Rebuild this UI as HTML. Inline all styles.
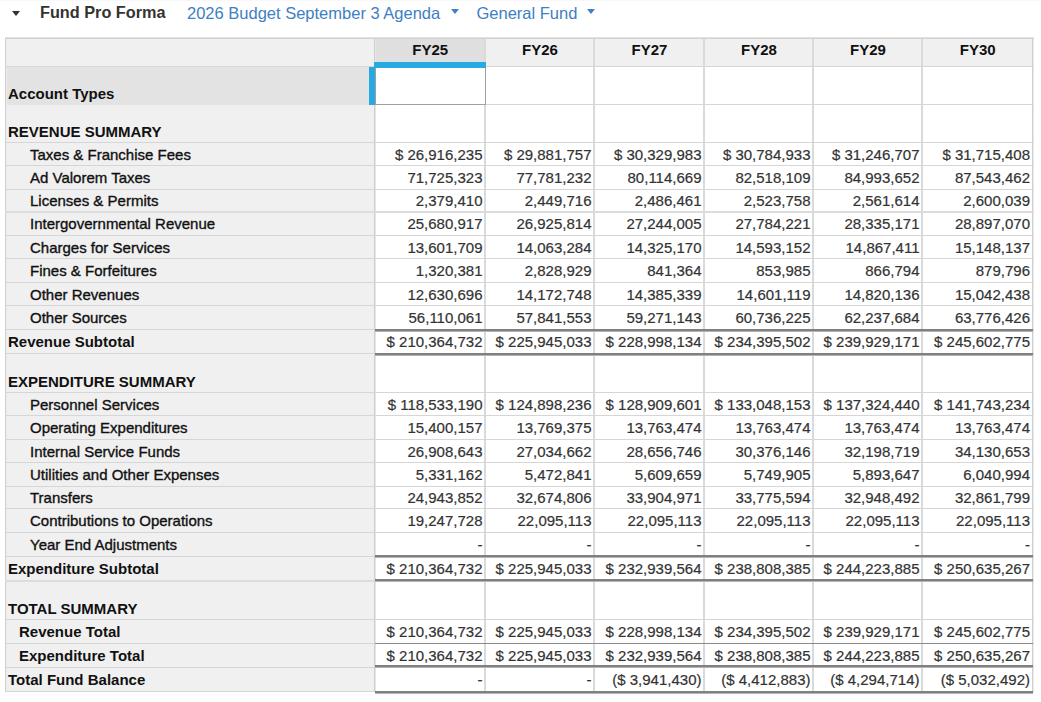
<!DOCTYPE html><html><head><meta charset="utf-8"><style>
*{margin:0;padding:0;box-sizing:border-box}
html,body{width:1041px;height:702px;overflow:hidden;background:#fff}
body{position:relative;font-family:"Liberation Sans",sans-serif;color:#222}
.a{position:absolute}
.t{position:absolute;white-space:nowrap;line-height:20px;font-size:15px}
.b{font-weight:bold}
.n{color:#333;text-align:right;-webkit-text-stroke:0.2px #333}
.lbl{color:#111}
.t.lbl:not(.b){-webkit-text-stroke:0.35px #111}
</style></head><body>
<div class="a" style="left:0;top:0;width:1041px;height:1px;background:#f8f8f8"></div>
<div class="a" style="left:11.5px;top:10.5px;width:0;height:0;border-left:4.5px solid transparent;border-right:4.5px solid transparent;border-top:5.5px solid #333"></div>
<div class="t b" style="left:40px;top:1.5px;font-size:16.25px;color:#333">Fund Pro Forma</div>
<div class="t" style="left:187px;top:2.5px;font-size:16.5px;color:#3d80c4">2026 Budget September 3 Agenda</div>
<div class="a" style="left:450.5px;top:9px;width:0;height:0;border-left:4.5px solid transparent;border-right:4.5px solid transparent;border-top:5.5px solid #3d80c4"></div>
<div class="t" style="left:476.5px;top:2.5px;font-size:16.5px;color:#3d80c4">General Fund</div>
<div class="a" style="left:587px;top:9px;width:0;height:0;border-left:4.5px solid transparent;border-right:4.5px solid transparent;border-top:5.5px solid #3d80c4"></div>
<div class="a" style="left:5px;top:38px;width:369px;height:653px;background:#f0f0f0"></div>
<div class="a" style="left:5px;top:38px;width:1027px;height:28px;background:#f0f0f0"></div>
<div class="a" style="left:374px;top:38px;width:110.5px;height:28px;background:#dfdfdf"></div>
<div class="a" style="left:5px;top:66px;width:369px;height:39px;background:#e3e3e3"></div>
<div class="a" style="left:5px;top:38px;width:1px;height:654px;background:#d0d0d0"></div>
<div class="a" style="left:6px;top:38px;width:1px;height:654px;background:#ececec"></div>
<div class="a" style="left:374px;top:38px;width:1px;height:654px;background:#cfcfcf"></div>
<div class="a" style="left:375px;top:38px;width:1px;height:654px;background:#e6e6e6"></div>
<div class="a" style="left:484px;top:38px;width:2px;height:654px;background:#dadada"></div>
<div class="a" style="left:593px;top:38px;width:2px;height:654px;background:#dadada"></div>
<div class="a" style="left:703px;top:38px;width:2px;height:654px;background:#dadada"></div>
<div class="a" style="left:812px;top:38px;width:2px;height:654px;background:#dadada"></div>
<div class="a" style="left:921px;top:38px;width:2px;height:654px;background:#dadada"></div>
<div class="a" style="left:1032px;top:38px;width:1px;height:654px;background:#cfcfcf"></div>
<div class="a" style="left:1033px;top:38px;width:1px;height:654px;background:#ececec"></div>
<div class="a" style="left:5px;top:37px;width:1029px;height:1px;background:#e2e2e2"></div>
<div class="a" style="left:5px;top:38px;width:1029px;height:1px;background:#d2d2d2"></div>
<div class="a" style="left:5px;top:66px;width:1029px;height:1px;background:#d6d6d6"></div>
<div class="a" style="left:374px;top:104px;width:660px;height:1px;background:#d6d6d6"></div>
<div class="a" style="left:5px;top:142px;width:1029px;height:1px;background:#d6d6d6"></div>
<div class="a" style="left:5px;top:165px;width:1029px;height:1px;background:#d6d6d6"></div>
<div class="a" style="left:5px;top:189px;width:1029px;height:1px;background:#d6d6d6"></div>
<div class="a" style="left:5px;top:211px;width:1029px;height:2px;background:#dcdcdc"></div>
<div class="a" style="left:5px;top:235px;width:1029px;height:1px;background:#d6d6d6"></div>
<div class="a" style="left:5px;top:258px;width:1029px;height:1px;background:#d6d6d6"></div>
<div class="a" style="left:5px;top:282px;width:1029px;height:1px;background:#d6d6d6"></div>
<div class="a" style="left:5px;top:305px;width:1029px;height:1px;background:#d6d6d6"></div>
<div class="a" style="left:5px;top:329px;width:1029px;height:1px;background:#d6d6d6"></div>
<div class="a" style="left:5px;top:353px;width:1029px;height:1px;background:#d6d6d6"></div>
<div class="a" style="left:5px;top:392px;width:1029px;height:1px;background:#d6d6d6"></div>
<div class="a" style="left:5px;top:415px;width:1029px;height:1px;background:#d6d6d6"></div>
<div class="a" style="left:5px;top:439px;width:1029px;height:1px;background:#d6d6d6"></div>
<div class="a" style="left:5px;top:462px;width:1029px;height:1px;background:#d6d6d6"></div>
<div class="a" style="left:5px;top:486px;width:1029px;height:1px;background:#d6d6d6"></div>
<div class="a" style="left:5px;top:508px;width:1029px;height:1px;background:#d6d6d6"></div>
<div class="a" style="left:5px;top:532px;width:1029px;height:1px;background:#d6d6d6"></div>
<div class="a" style="left:5px;top:556px;width:1029px;height:1px;background:#d6d6d6"></div>
<div class="a" style="left:5px;top:580px;width:1029px;height:2px;background:#dcdcdc"></div>
<div class="a" style="left:5px;top:619px;width:1029px;height:1px;background:#d6d6d6"></div>
<div class="a" style="left:5px;top:643px;width:1029px;height:1px;background:#d6d6d6"></div>
<div class="a" style="left:5px;top:667px;width:1029px;height:1px;background:#d6d6d6"></div>
<div class="a" style="left:5px;top:691px;width:1029px;height:1px;background:#d6d6d6"></div>
<div class="t b" style="left:374px;top:40px;width:112.5px;text-align:center;color:#111">FY25</div>
<div class="t b" style="left:484.5px;top:40px;width:111.0px;text-align:center;color:#111">FY26</div>
<div class="t b" style="left:593.5px;top:40px;width:112.0px;text-align:center;color:#111">FY27</div>
<div class="t b" style="left:703.5px;top:40px;width:111.0px;text-align:center;color:#111">FY28</div>
<div class="t b" style="left:812.5px;top:40px;width:111.0px;text-align:center;color:#111">FY29</div>
<div class="t b" style="left:921.5px;top:40px;width:112.5px;text-align:center;color:#111">FY30</div>
<div class="t b lbl" style="left:8px;top:84.0px">Account Types</div>
<div class="t b lbl" style="left:8px;top:121.5px">REVENUE SUMMARY</div>
<div class="t lbl" style="left:30px;top:144.5px">Taxes &amp; Franchise Fees</div>
<div class="t n" style="right:558.5px;top:144.5px">$ 26,916,235</div>
<div class="t n" style="right:449.5px;top:144.5px">$ 29,881,757</div>
<div class="t n" style="right:339.5px;top:144.5px">$ 30,329,983</div>
<div class="t n" style="right:230.5px;top:144.5px">$ 30,784,933</div>
<div class="t n" style="right:121.5px;top:144.5px">$ 31,246,707</div>
<div class="t n" style="right:11px;top:144.5px">$ 31,715,408</div>
<div class="t lbl" style="left:30px;top:168.0px">Ad Valorem Taxes</div>
<div class="t n" style="right:558.5px;top:168.0px">71,725,323</div>
<div class="t n" style="right:449.5px;top:168.0px">77,781,232</div>
<div class="t n" style="right:339.5px;top:168.0px">80,114,669</div>
<div class="t n" style="right:230.5px;top:168.0px">82,518,109</div>
<div class="t n" style="right:121.5px;top:168.0px">84,993,652</div>
<div class="t n" style="right:11px;top:168.0px">87,543,462</div>
<div class="t lbl" style="left:30px;top:191.25px">Licenses &amp; Permits</div>
<div class="t n" style="right:558.5px;top:191.25px">2,379,410</div>
<div class="t n" style="right:449.5px;top:191.25px">2,449,716</div>
<div class="t n" style="right:339.5px;top:191.25px">2,486,461</div>
<div class="t n" style="right:230.5px;top:191.25px">2,523,758</div>
<div class="t n" style="right:121.5px;top:191.25px">2,561,614</div>
<div class="t n" style="right:11px;top:191.25px">2,600,039</div>
<div class="t lbl" style="left:30px;top:214.25px">Intergovernmental Revenue</div>
<div class="t n" style="right:558.5px;top:214.25px">25,680,917</div>
<div class="t n" style="right:449.5px;top:214.25px">26,925,814</div>
<div class="t n" style="right:339.5px;top:214.25px">27,244,005</div>
<div class="t n" style="right:230.5px;top:214.25px">27,784,221</div>
<div class="t n" style="right:121.5px;top:214.25px">28,335,171</div>
<div class="t n" style="right:11px;top:214.25px">28,897,070</div>
<div class="t lbl" style="left:30px;top:237.5px">Charges for Services</div>
<div class="t n" style="right:558.5px;top:237.5px">13,601,709</div>
<div class="t n" style="right:449.5px;top:237.5px">14,063,284</div>
<div class="t n" style="right:339.5px;top:237.5px">14,325,170</div>
<div class="t n" style="right:230.5px;top:237.5px">14,593,152</div>
<div class="t n" style="right:121.5px;top:237.5px">14,867,411</div>
<div class="t n" style="right:11px;top:237.5px">15,148,137</div>
<div class="t lbl" style="left:30px;top:261.0px">Fines &amp; Forfeitures</div>
<div class="t n" style="right:558.5px;top:261.0px">1,320,381</div>
<div class="t n" style="right:449.5px;top:261.0px">2,828,929</div>
<div class="t n" style="right:339.5px;top:261.0px">841,364</div>
<div class="t n" style="right:230.5px;top:261.0px">853,985</div>
<div class="t n" style="right:121.5px;top:261.0px">866,794</div>
<div class="t n" style="right:11px;top:261.0px">879,796</div>
<div class="t lbl" style="left:30px;top:284.5px">Other Revenues</div>
<div class="t n" style="right:558.5px;top:284.5px">12,630,696</div>
<div class="t n" style="right:449.5px;top:284.5px">14,172,748</div>
<div class="t n" style="right:339.5px;top:284.5px">14,385,339</div>
<div class="t n" style="right:230.5px;top:284.5px">14,601,119</div>
<div class="t n" style="right:121.5px;top:284.5px">14,820,136</div>
<div class="t n" style="right:11px;top:284.5px">15,042,438</div>
<div class="t lbl" style="left:30px;top:308.0px">Other Sources</div>
<div class="t n" style="right:558.5px;top:308.0px">56,110,061</div>
<div class="t n" style="right:449.5px;top:308.0px">57,841,553</div>
<div class="t n" style="right:339.5px;top:308.0px">59,271,143</div>
<div class="t n" style="right:230.5px;top:308.0px">60,736,225</div>
<div class="t n" style="right:121.5px;top:308.0px">62,237,684</div>
<div class="t n" style="right:11px;top:308.0px">63,776,426</div>
<div class="t b lbl" style="left:8px;top:332.0px">Revenue Subtotal</div>
<div class="t n" style="right:558.5px;top:332.0px">$ 210,364,732</div>
<div class="t n" style="right:449.5px;top:332.0px">$ 225,945,033</div>
<div class="t n" style="right:339.5px;top:332.0px">$ 228,998,134</div>
<div class="t n" style="right:230.5px;top:332.0px">$ 234,395,502</div>
<div class="t n" style="right:121.5px;top:332.0px">$ 239,929,171</div>
<div class="t n" style="right:11px;top:332.0px">$ 245,602,775</div>
<div class="t b lbl" style="left:8px;top:371.5px">EXPENDITURE SUMMARY</div>
<div class="t lbl" style="left:30px;top:394.5px">Personnel Services</div>
<div class="t n" style="right:558.5px;top:394.5px">$ 118,533,190</div>
<div class="t n" style="right:449.5px;top:394.5px">$ 124,898,236</div>
<div class="t n" style="right:339.5px;top:394.5px">$ 128,909,601</div>
<div class="t n" style="right:230.5px;top:394.5px">$ 133,048,153</div>
<div class="t n" style="right:121.5px;top:394.5px">$ 137,324,440</div>
<div class="t n" style="right:11px;top:394.5px">$ 141,743,234</div>
<div class="t lbl" style="left:30px;top:418.0px">Operating Expenditures</div>
<div class="t n" style="right:558.5px;top:418.0px">15,400,157</div>
<div class="t n" style="right:449.5px;top:418.0px">13,769,375</div>
<div class="t n" style="right:339.5px;top:418.0px">13,763,474</div>
<div class="t n" style="right:230.5px;top:418.0px">13,763,474</div>
<div class="t n" style="right:121.5px;top:418.0px">13,763,474</div>
<div class="t n" style="right:11px;top:418.0px">13,763,474</div>
<div class="t lbl" style="left:30px;top:441.5px">Internal Service Funds</div>
<div class="t n" style="right:558.5px;top:441.5px">26,908,643</div>
<div class="t n" style="right:449.5px;top:441.5px">27,034,662</div>
<div class="t n" style="right:339.5px;top:441.5px">28,656,746</div>
<div class="t n" style="right:230.5px;top:441.5px">30,376,146</div>
<div class="t n" style="right:121.5px;top:441.5px">32,198,719</div>
<div class="t n" style="right:11px;top:441.5px">34,130,653</div>
<div class="t lbl" style="left:30px;top:465.0px">Utilities and Other Expenses</div>
<div class="t n" style="right:558.5px;top:465.0px">5,331,162</div>
<div class="t n" style="right:449.5px;top:465.0px">5,472,841</div>
<div class="t n" style="right:339.5px;top:465.0px">5,609,659</div>
<div class="t n" style="right:230.5px;top:465.0px">5,749,905</div>
<div class="t n" style="right:121.5px;top:465.0px">5,893,647</div>
<div class="t n" style="right:11px;top:465.0px">6,040,994</div>
<div class="t lbl" style="left:30px;top:488.0px">Transfers</div>
<div class="t n" style="right:558.5px;top:488.0px">24,943,852</div>
<div class="t n" style="right:449.5px;top:488.0px">32,674,806</div>
<div class="t n" style="right:339.5px;top:488.0px">33,904,971</div>
<div class="t n" style="right:230.5px;top:488.0px">33,775,594</div>
<div class="t n" style="right:121.5px;top:488.0px">32,948,492</div>
<div class="t n" style="right:11px;top:488.0px">32,861,799</div>
<div class="t lbl" style="left:30px;top:511.0px">Contributions to Operations</div>
<div class="t n" style="right:558.5px;top:511.0px">19,247,728</div>
<div class="t n" style="right:449.5px;top:511.0px">22,095,113</div>
<div class="t n" style="right:339.5px;top:511.0px">22,095,113</div>
<div class="t n" style="right:230.5px;top:511.0px">22,095,113</div>
<div class="t n" style="right:121.5px;top:511.0px">22,095,113</div>
<div class="t n" style="right:11px;top:511.0px">22,095,113</div>
<div class="t lbl" style="left:30px;top:535.0px">Year End Adjustments</div>
<div class="t n" style="right:558.5px;top:535.0px">-</div>
<div class="t n" style="right:449.5px;top:535.0px">-</div>
<div class="t n" style="right:339.5px;top:535.0px">-</div>
<div class="t n" style="right:230.5px;top:535.0px">-</div>
<div class="t n" style="right:121.5px;top:535.0px">-</div>
<div class="t n" style="right:11px;top:535.0px">-</div>
<div class="t b lbl" style="left:8px;top:559.25px">Expenditure Subtotal</div>
<div class="t n" style="right:558.5px;top:559.25px">$ 210,364,732</div>
<div class="t n" style="right:449.5px;top:559.25px">$ 225,945,033</div>
<div class="t n" style="right:339.5px;top:559.25px">$ 232,939,564</div>
<div class="t n" style="right:230.5px;top:559.25px">$ 238,808,385</div>
<div class="t n" style="right:121.5px;top:559.25px">$ 244,223,885</div>
<div class="t n" style="right:11px;top:559.25px">$ 250,635,267</div>
<div class="t b lbl" style="left:8px;top:598.5px">TOTAL SUMMARY</div>
<div class="t b lbl" style="left:19px;top:622.0px">Revenue Total</div>
<div class="t n" style="right:558.5px;top:622.0px">$ 210,364,732</div>
<div class="t n" style="right:449.5px;top:622.0px">$ 225,945,033</div>
<div class="t n" style="right:339.5px;top:622.0px">$ 228,998,134</div>
<div class="t n" style="right:230.5px;top:622.0px">$ 234,395,502</div>
<div class="t n" style="right:121.5px;top:622.0px">$ 239,929,171</div>
<div class="t n" style="right:11px;top:622.0px">$ 245,602,775</div>
<div class="t b lbl" style="left:19px;top:646.0px">Expenditure Total</div>
<div class="t n" style="right:558.5px;top:646.0px">$ 210,364,732</div>
<div class="t n" style="right:449.5px;top:646.0px">$ 225,945,033</div>
<div class="t n" style="right:339.5px;top:646.0px">$ 232,939,564</div>
<div class="t n" style="right:230.5px;top:646.0px">$ 238,808,385</div>
<div class="t n" style="right:121.5px;top:646.0px">$ 244,223,885</div>
<div class="t n" style="right:11px;top:646.0px">$ 250,635,267</div>
<div class="t b lbl" style="left:8px;top:670.0px">Total Fund Balance</div>
<div class="t n" style="right:558.5px;top:670.0px">-</div>
<div class="t n" style="right:449.5px;top:670.0px">-</div>
<div class="t n" style="right:339.5px;top:670.0px">($ 3,941,430)</div>
<div class="t n" style="right:230.5px;top:670.0px">($ 4,412,883)</div>
<div class="t n" style="right:121.5px;top:670.0px">($ 4,294,714)</div>
<div class="t n" style="right:11px;top:670.0px">($ 5,032,492)</div>
<div class="a" style="left:375px;top:329px;width:658px;height:2px;background:#808080"></div>
<div class="a" style="left:375px;top:331px;width:658px;height:1px;background:#b4b4b4"></div>
<div class="a" style="left:375px;top:353px;width:658px;height:2px;background:#808080"></div>
<div class="a" style="left:375px;top:355px;width:658px;height:1px;background:#b4b4b4"></div>
<div class="a" style="left:375px;top:555px;width:658px;height:2px;background:#808080"></div>
<div class="a" style="left:375px;top:557px;width:658px;height:1px;background:#b4b4b4"></div>
<div class="a" style="left:375px;top:579px;width:658px;height:2px;background:#808080"></div>
<div class="a" style="left:375px;top:581px;width:658px;height:1px;background:#b4b4b4"></div>
<div class="a" style="left:375px;top:665px;width:658px;height:2px;background:#808080"></div>
<div class="a" style="left:375px;top:667px;width:658px;height:1px;background:#b4b4b4"></div>
<div class="a" style="left:375px;top:691px;width:658px;height:2px;background:#808080"></div>
<div class="a" style="left:375px;top:693px;width:658px;height:1px;background:#b4b4b4"></div>
<div class="a" style="left:375px;top:643px;width:658px;height:1px;background:#8a8a8a"></div>
<div class="a" style="left:375px;top:67px;width:110.5px;height:38px;background:#fff;border:1px solid #a0a0a0"></div>
<div class="a" style="left:374px;top:62px;width:111.5px;height:6px;background:#27a9e1"></div>
<div class="a" style="left:369px;top:67px;width:6px;height:38px;background:#27a9e1"></div>
</body></html>
